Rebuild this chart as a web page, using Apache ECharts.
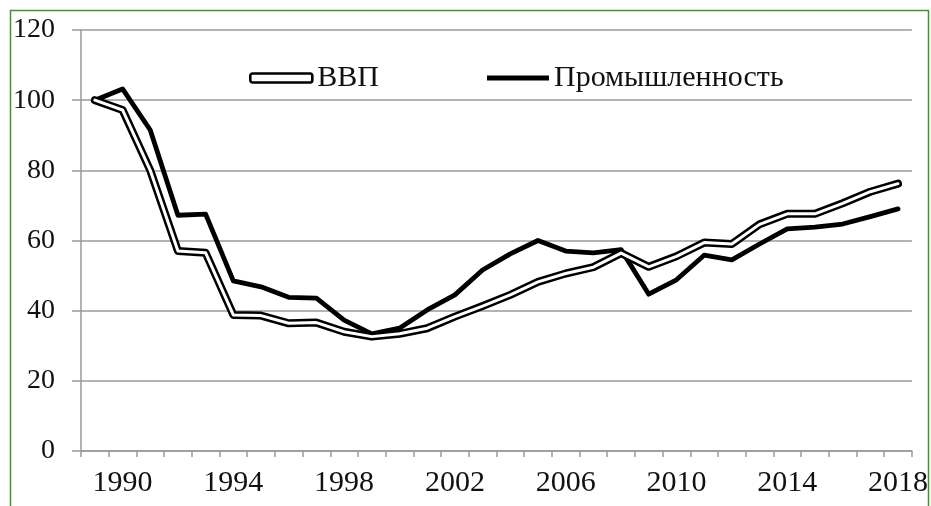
<!DOCTYPE html>
<html>
<head>
<meta charset="utf-8">
<script src="https://cdn.jsdelivr.net/npm/echarts@6/dist/echarts.min.js"></script>
<style>
  html, body { margin: 0; padding: 0; background: #fff; }
  #root { width: 931px; height: 506px; }
</style>
</head>
<body>
<div id="root"></div>
<script>
// годы и индексы (1989 = 100)
var years = [];
for (var y = 1989; y <= 2018; y++) years.push(String(y));

var gdp = [100, 97.2, 80, 57, 56.5, 38.8, 38.6, 36.4, 36.6, 34, 32.6, 33.4, 35, 38.3, 41.3,
  44.5, 48.2, 50.6, 52.4, 56.4, 52.5, 55.5, 59.4, 59, 64.6, 67.6, 67.6, 70.6, 73.9, 76.2];
var industry = [100, 103.2, 91.5, 67.2, 67.5, 48.5, 46.8, 43.8, 43.6, 37.3, 33.4, 35, 40.2, 44.5, 51.6,
  56.2, 60, 57, 56.5, 57.4, 44.7, 48.8, 55.8, 54.5, 59, 63.3, 63.8, 64.7, 66.8, 69];
var labelYears = ['1990', '1994', '1998', '2002', '2006', '2010', '2014', '2018'];

var font = 'Liberation Serif';
var gray = '#9a9a9a';

var myChart = echarts.init(document.getElementById('root'));
myChart.setOption({
  backgroundColor: '#fff',
  animation: false,
  graphic: [{
    type: 'rect',
    shape: { x: 10.5, y: 10.5, width: 918, height: 520 },
    style: { fill: 'none', stroke: '#4f8a3c', lineWidth: 1.5 },
    silent: true
  }],
  grid: { left: 81, right: 18, top: 30, bottom: 55 },
  legend: {
    left: 244,
    top: 58,
    itemWidth: 62,
    itemHeight: 9,
    itemGap: 108,
    textStyle: { fontFamily: font, fontSize: 30, color: '#111' },
    data: [
      { name: 'ВВП', icon: 'roundRect', itemStyle: { color: '#fff', borderColor: '#000', borderWidth: 2.6 } },
      { name: 'Промышленность', icon: 'path://M0,0 H60 V5 H0 Z', itemStyle: { color: '#000' } }
    ]
  },
  xAxis: {
    type: 'category',
    data: years,
    boundaryGap: true,
    axisLine: { lineStyle: { color: gray, width: 1.5 } },
    axisTick: { show: true, length: 6, interval: 0, lineStyle: { color: gray, width: 1.5 } },
    axisLabel: {
      interval: 0,
      margin: 17,
      fontFamily: font, fontSize: 30, color: '#111',
      formatter: function (v) { return labelYears.indexOf(v) >= 0 ? v : ''; }
    },
    splitLine: { show: false }
  },
  yAxis: {
    type: 'value',
    min: 0, max: 120, interval: 20,
    axisLine: { show: true, lineStyle: { color: gray, width: 1.5 } },
    axisTick: { show: true, length: 9, inside: false, lineStyle: { color: gray, width: 1.5 } },
    axisLabel: { margin: 26, fontFamily: font, fontSize: 28, color: '#111' },
    splitLine: { lineStyle: { color: gray, width: 1.5 } }
  },
  series: [
    {
      name: 'Промышленность',
      type: 'line',
      data: industry,
      symbol: 'none',
      lineStyle: { color: '#000', width: 4.8, join: 'round', cap: 'round' },
      itemStyle: { color: '#000' },
      z: 2
    },
    {
      name: 'ВВП_контур',
      type: 'line',
      data: gdp,
      symbol: 'none',
      lineStyle: { color: '#000', width: 8, join: 'round', cap: 'round' },
      z: 3
    },
    {
      name: 'ВВП',
      type: 'line',
      data: gdp,
      symbol: 'none',
      lineStyle: { color: '#fff', width: 3, join: 'round', cap: 'round' },
      itemStyle: { color: '#fff' },
      z: 4
    }
  ]
});
</script>
</body>
</html>
